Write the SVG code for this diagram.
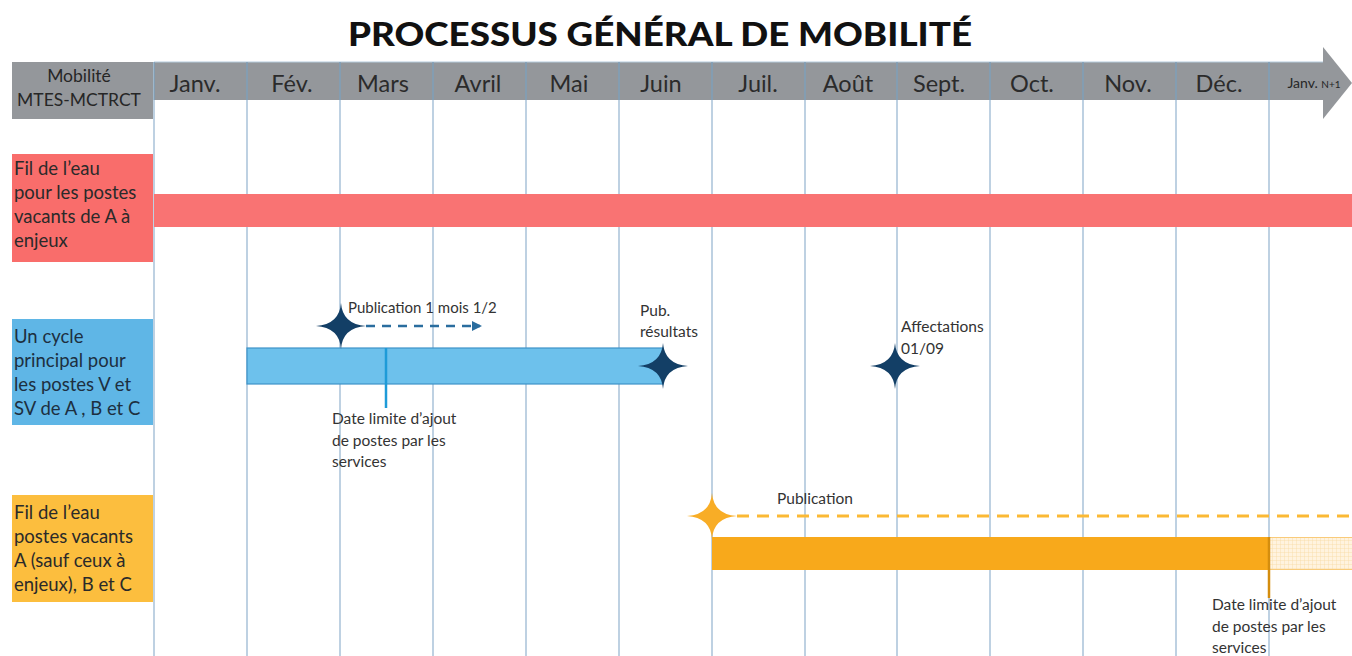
<svg xmlns="http://www.w3.org/2000/svg" xmlns:xlink="http://www.w3.org/1999/xlink" width="1352" height="656" viewBox="0 0 1352 656">
  <style>
    text { font-family: Lato, "Open Sans", "Liberation Sans", sans-serif; fill: #262626; }
    .title { font-size: 32px; font-weight: 900; fill: #111; }
    .month { font-size: 23.5px; text-anchor: middle; fill: #2b2b2b; }
    .lbl { font-size: 18.5px; fill: #2a2a2a; }
    .note { font-size: 15.5px; fill: #333; }
    .grid line { stroke: #a9c2d8; stroke-width: 1.5; }
    .sep line { stroke: #7f9fb8; stroke-width: 1.5; }
    .hdr { fill: #94979b; }
  </style>
  <defs>
    <!-- four-pointed milestone star, centred on 0,0 -->
    <path id="star" d="M0,-23 Q1.6,-1.6 25,0 Q1.6,1.6 0,23 Q-1.6,1.6 -25,0 Q-1.6,-1.6 0,-23 Z"/>
    <marker id="blueHead" viewBox="0 0 10 10" refX="8" refY="5" markerWidth="4" markerHeight="4" orient="auto">
      <path d="M0,0 L10,5 L0,10 Z" fill="#2a6d9e"/>
    </marker>
    <pattern id="hatch" width="4" height="4" patternUnits="userSpaceOnUse">
      <rect width="4" height="4" fill="#fff3df"/>
      <path d="M0,0 H4 M0,0 V4" stroke="#f9d9a2" stroke-width="0.8"/>
    </pattern>
  </defs>

  <rect width="1352" height="656" fill="#ffffff"/>

  <text class="title" x="660" y="46" text-anchor="middle" textLength="624" lengthAdjust="spacingAndGlyphs">PROCESSUS GÉNÉRAL DE MOBILITÉ</text>

  <!-- timeline header: months band ending in an arrow -->
  <g id="timeline-header">
    <rect class="hdr" x="154" y="62" width="1170" height="38"/>
    <polygon class="hdr" points="1323,47 1352,83 1323,119"/>
    <line x1="154" y1="62" x2="1323" y2="62" stroke="#b4cbdc" stroke-width="1"/>
    <g class="sep">
      <line x1="154" y1="62" x2="154" y2="100"/>
      <line x1="247" y1="62" x2="247" y2="100"/>
      <line x1="340" y1="62" x2="340" y2="100"/>
      <line x1="433" y1="62" x2="433" y2="100"/>
      <line x1="526" y1="62" x2="526" y2="100"/>
      <line x1="619" y1="62" x2="619" y2="100"/>
      <line x1="712" y1="62" x2="712" y2="100"/>
      <line x1="805" y1="62" x2="805" y2="100"/>
      <line x1="897" y1="62" x2="897" y2="100"/>
      <line x1="990" y1="62" x2="990" y2="100"/>
      <line x1="1083" y1="62" x2="1083" y2="100"/>
      <line x1="1176" y1="62" x2="1176" y2="100"/>
      <line x1="1269" y1="62" x2="1269" y2="100"/>
    </g>
    <text class="month" x="195" y="92">Janv.</text>
    <text class="month" x="292" y="92">Fév.</text>
    <text class="month" x="383" y="92">Mars</text>
    <text class="month" x="478" y="92">Avril</text>
    <text class="month" x="569" y="92">Mai</text>
    <text class="month" x="661" y="92">Juin</text>
    <text class="month" x="758" y="92">Juil.</text>
    <text class="month" x="848" y="92">Août</text>
    <text class="month" x="939" y="92">Sept.</text>
    <text class="month" x="1032" y="92">Oct.</text>
    <text class="month" x="1128" y="92">Nov.</text>
    <text class="month" x="1219" y="92">Déc.</text>
    <text x="1314" y="88" text-anchor="middle" style="font-size:14px">Janv. <tspan style="font-size:10px">N+1</tspan></text>
  </g>

  <g id="header-cell">
    <rect class="hdr" x="12" y="62" width="141" height="57"/>
    <text x="79" y="82" text-anchor="middle" style="font-size:17.5px">Mobilité</text>
    <text x="79" y="106" text-anchor="middle" style="font-size:17.5px">MTES-MCTRCT</text>
  </g>

  <!-- month grid -->
  <g class="grid">
    <line x1="154" y1="100" x2="154" y2="656"/>
    <line x1="247" y1="100" x2="247" y2="656"/>
    <line x1="340" y1="100" x2="340" y2="656"/>
    <line x1="433" y1="100" x2="433" y2="656"/>
    <line x1="526" y1="100" x2="526" y2="656"/>
    <line x1="619" y1="100" x2="619" y2="656"/>
    <line x1="712" y1="100" x2="712" y2="656"/>
    <line x1="805" y1="100" x2="805" y2="656"/>
    <line x1="897" y1="100" x2="897" y2="656"/>
    <line x1="990" y1="100" x2="990" y2="656"/>
    <line x1="1083" y1="100" x2="1083" y2="656"/>
    <line x1="1176" y1="100" x2="1176" y2="656"/>
    <line x1="1269" y1="100" x2="1269" y2="656"/>
  </g>

  <!-- row 1: red -->
  <g id="row-fil-eau-enjeux">
    <rect x="12" y="154" width="141" height="108" fill="#f96d6b"/>
    <text class="lbl" x="14" y="175">Fil de l’eau</text>
    <text class="lbl" x="14" y="199">pour les postes</text>
    <text class="lbl" x="14" y="223">vacants de A à</text>
    <text class="lbl" x="14" y="247">enjeux</text>
  </g>
  <g id="bar-fil-eau-enjeux">
    <rect x="154" y="194" width="1198" height="33" fill="#f97373"/>
  </g>

  <!-- row 2: blue -->
  <g id="row-cycle-principal">
    <rect x="12" y="319" width="141" height="106" fill="#5fb6e6"/>
    <text class="lbl" x="14" y="343" style="fill:#1d2f40">Un cycle</text>
    <text class="lbl" x="14" y="367" style="fill:#1d2f40">principal pour</text>
    <text class="lbl" x="14" y="391" style="fill:#1d2f40">les postes V et</text>
    <text class="lbl" x="14" y="415" style="fill:#1d2f40">SV de A , B et C</text>
  </g>
  <g id="bar-cycle-principal">
    <rect x="247" y="348" width="416" height="36" fill="#6dc1ec" stroke="#3f93c8" stroke-width="1.2"/>
  </g>

  <!-- row 3: orange -->
  <g id="row-fil-eau-abc">
    <rect x="12" y="495" width="141" height="107" fill="#fcbe3e"/>
    <text class="lbl" x="14" y="519">Fil de l’eau</text>
    <text class="lbl" x="14" y="543">postes vacants</text>
    <text class="lbl" x="14" y="567">A (sauf ceux à</text>
    <text class="lbl" x="14" y="591">enjeux), B et C</text>
  </g>
  <g id="bar-fil-eau-abc">
    <rect x="712" y="537" width="557" height="33" fill="#f8a91b"/>
    <rect x="1269" y="537.5" width="85" height="32" fill="url(#hatch)" stroke="#f9cb7a" stroke-width="1"/>
  </g>

  <!-- dashed publication periods and deadline ticks -->
  <g id="connectors">
    <line x1="366" y1="326" x2="480" y2="326" stroke="#2a6d9e" stroke-width="2.5" stroke-dasharray="9 7" marker-end="url(#blueHead)"/>
    <line x1="737" y1="516" x2="1352" y2="516" stroke="#fbb935" stroke-width="3" stroke-dasharray="12 8"/>
    <line x1="386" y1="348" x2="386" y2="408" stroke="#1e9bd8" stroke-width="2.5"/>
    <line x1="1269" y1="537" x2="1269" y2="598" stroke="#d48d0e" stroke-width="2.5"/>
  </g>

  <!-- milestones -->
  <g id="milestone-publication">
    <use xlink:href="#star" x="341" y="326" fill="#133f66"/>
    <text class="note" x="348" y="313" style="font-size:15px">Publication 1 mois 1/2</text>
  </g>
  <g id="milestone-date-limite">
    <text class="note" x="332" y="424">Date limite d’ajout</text>
    <text class="note" x="332" y="446">de postes par les</text>
    <text class="note" x="332" y="467">services</text>
  </g>
  <g id="milestone-resultats">
    <use xlink:href="#star" x="663" y="366" fill="#133f66"/>
    <text class="note" x="640" y="316">Pub.</text>
    <text class="note" x="640" y="337">résultats</text>
  </g>
  <g id="milestone-affectations">
    <use xlink:href="#star" x="895" y="366" fill="#133f66"/>
    <text class="note" x="901" y="332">Affectations</text>
    <text class="note" x="901" y="354">01/09</text>
  </g>
  <g id="milestone-publication-fil">
    <use xlink:href="#star" x="712" y="516" fill="#f8ad26"/>
    <text class="note" x="777" y="504">Publication</text>
  </g>
  <g id="milestone-date-limite-fil">
    <text class="note" x="1212" y="610">Date limite d’ajout</text>
    <text class="note" x="1212" y="632">de postes par les</text>
    <text class="note" x="1212" y="653">services</text>
  </g>
</svg>
